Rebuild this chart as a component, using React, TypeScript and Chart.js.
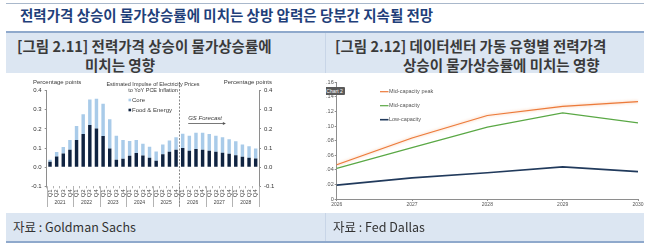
import React, { useEffect, useRef } from "react";
import { Chart, registerables } from "chart.js";

Chart.register(...registerables);

// ---------- Figure 2.11 data (Goldman Sachs) ----------
const quarterLabels = [
  "Q1", "Q2", "Q3", "Q4", "Q1", "Q2", "Q3", "Q4",
  "Q1", "Q2", "Q3", "Q4", "Q1", "Q2", "Q3", "Q4",
  "Q1", "Q2", "Q3", "Q4", "Q1", "Q2", "Q3", "Q4",
  "Q1", "Q2", "Q3", "Q4", "Q1", "Q2", "Q3", "Q4",
];
const yearLabels = ["2021", "2022", "2023", "2024", "2025", "2026", "2027", "2028"];
const foodEnergy = [
  0.028, 0.056, 0.072, 0.091, 0.142, 0.174, 0.221, 0.202,
  0.163, 0.098, 0.039, 0.044, 0.06, 0.074, 0.061, 0.049,
  0.033, 0.068, 0.081, 0.091, 0.1, 0.086, 0.095, 0.091,
  0.086, 0.081, 0.075, 0.07, 0.063, 0.054, 0.049, 0.046,
];
const coreImpulse = [
  0.011, 0.023, 0.033, 0.051, 0.074, 0.103, 0.133, 0.156,
  0.169, 0.153, 0.126, 0.098, 0.077, 0.068, 0.062, 0.058,
  0.049, 0.05, 0.058, 0.065, 0.075, 0.079, 0.085, 0.089,
  0.088, 0.084, 0.081, 0.076, 0.072, 0.064, 0.06, 0.052,
];
const forecastStartYear = "2026";

// ---------- Figure 2.12 data (Fed Dallas) ----------
const dcYears = ["2026", "2027", "2028", "2029", "2030"];
const midCapacityPeak = [0.047, 0.0836, 0.1145, 0.127, 0.1335];
const midCapacity = [0.042, 0.0705, 0.0985, 0.118, 0.1045];
const lowCapacity = [0.019, 0.029, 0.036, 0.044, 0.0375];

const FONT = "'Liberation Sans', Arial, sans-serif";
const KFONT = "'Noto Sans CJK KR', 'Noto Sans', sans-serif";

const LIGHT = "#a9cbe9";
const DARK = "#0f2341";
const AXIS = "#8e8e8e";

function ImpulseChart() {
  const ref = useRef<HTMLCanvasElement>(null);
  useEffect(() => {
    const decor = {
      id: "impulseDecor",
      afterDraw(chart: any) {
        const { ctx, chartArea } = chart;
        const x = chart.scales.x;
        const y = chart.scales.y;
        const x2 = chart.scales.x2;
        const n = quarterLabels.length;
        const sepBottom = x2.bottom;
        ctx.save();
        // year separators
        ctx.strokeStyle = "#b3b3b3";
        ctx.lineWidth = 1;
        for (let i = 0; i <= n; i += 4) {
          const px =
            i === 0 ? x.left : i >= n ? x.right : (x.getPixelForValue(i - 1) + x.getPixelForValue(i)) / 2;
          const xx = Math.round(px) + 0.5;
          ctx.beginPath();
          ctx.moveTo(xx, chartArea.bottom);
          ctx.lineTo(xx, sepBottom);
          ctx.stroke();
        }
        // forecast divider
        const fIdx = yearLabels.indexOf(forecastStartYear) * 4;
        const fx = Math.round((x.getPixelForValue(fIdx - 1) + x.getPixelForValue(fIdx)) / 2) + 0.5;
        ctx.setLineDash([2, 1.5]);
        ctx.strokeStyle = "#8a8a8a";
        ctx.beginPath();
        ctx.moveTo(fx, 9);
        ctx.lineTo(fx, sepBottom);
        ctx.stroke();
        ctx.setLineDash([]);
        // header texts
        ctx.fillStyle = "#3a3a3a";
        ctx.textBaseline = "middle";
        ctx.font = `6px ${FONT}`;
        ctx.textAlign = "left";
        ctx.fillText("Percentage points", 28, 9);
        ctx.textAlign = "right";
        ctx.fillText("Percentage points", 267, 9);
        ctx.textAlign = "center";
        ctx.font = `5.5px ${FONT}`;
        ctx.fillText("Estimated Impulse of Electricity Prices", 148, 11.3);
        ctx.fillText("to YoY PCE Inflation", 148, 17);
        // legend
        ctx.font = `6px ${FONT}`;
        ctx.textAlign = "left";
        ctx.fillStyle = LIGHT;
        ctx.fillRect(123.5, 25.7, 2.6, 2.6);
        ctx.fillStyle = DARK;
        ctx.fillRect(123.5, 35.7, 2.6, 2.6);
        ctx.fillStyle = "#3a3a3a";
        ctx.fillText("Core", 127, 27);
        ctx.fillText("Food & Energy", 127, 37);
        // GS Forecast
        const gx0 = x.getPixelForValue(fIdx) + 5.5;
        const gx1 = x.getPixelForValue(fIdx + 5) + 8;
        ctx.font = `italic 6px ${FONT}`;
        ctx.fillText("GS Forecast", gx0, y.getPixelForValue(0.258));
        const ay = Math.round(y.getPixelForValue(0.232)) + 0.5;
        ctx.strokeStyle = "#555";
        ctx.lineWidth = 0.8;
        ctx.beginPath();
        ctx.moveTo(gx0, ay);
        ctx.lineTo(gx1, ay);
        ctx.stroke();
        ctx.fillStyle = "#555";
        ctx.beginPath();
        ctx.moveTo(gx1 + 2, ay);
        ctx.lineTo(gx1 - 1, ay - 1.5);
        ctx.lineTo(gx1 - 1, ay + 1.5);
        ctx.closePath();
        ctx.fill();
        ctx.restore();
      },
    };
    const yTicks = {
      color: "#333",
      font: { size: 6, family: FONT },
      stepSize: 0.1,
      padding: 3,
      callback: (v: any) => Number(v).toFixed(1),
    };
    const chart = new Chart(ref.current!, {
      type: "bar",
      data: {
        labels: quarterLabels,
        datasets: [
          { label: "Food & Energy", data: foodEnergy, backgroundColor: DARK, barPercentage: 0.52, categoryPercentage: 1 },
          { label: "Core", data: coreImpulse, backgroundColor: LIGHT, barPercentage: 0.52, categoryPercentage: 1 },
        ],
      },
      options: {
        animation: false,
        responsive: false,
        maintainAspectRatio: false,
        devicePixelRatio: 1,
        layout: { padding: { left: 0, right: 46, top: 17.7, bottom: 5 } },
        plugins: { legend: { display: false }, tooltip: { enabled: false }, title: { display: false } },
        scales: {
          x: {
            stacked: true,
            offset: true,
            grid: { display: true, drawOnChartArea: false, drawTicks: true, tickLength: 2, color: "#b3b3b3", offset: true },
            border: { display: false },
            ticks: {
              autoSkip: false,
              minRotation: 90,
              maxRotation: 90,
              padding: 1,
              color: "#444",
              font: { size: 6, family: FONT },
            },
            afterFit: (s: any) => {
              s.height = 12;
            },
          },
          x2: {
            type: "category",
            position: "bottom",
            labels: yearLabels,
            offset: true,
            grid: { display: false, drawTicks: false, tickLength: 0 },
            border: { display: false },
            ticks: { padding: 1, color: "#444", font: { size: 5, family: FONT }, autoSkip: false, maxRotation: 0 },
            afterFit: (s: any) => {
              s.height = 8.7;
            },
          },
          y: {
            stacked: true,
            min: -0.1,
            max: 0.4,
            position: "left",
            grid: { drawOnChartArea: false, drawTicks: true, tickLength: 2, color: AXIS },
            border: { display: true, color: AXIS, width: 1 },
            ticks: yTicks,
            afterFit: (s: any) => {
              s.width = 41.7;
            },
          },
          y2: {
            min: -0.1,
            max: 0.4,
            position: "right",
            grid: { drawOnChartArea: false, drawTicks: true, tickLength: 2, color: AXIS },
            border: { display: true, color: AXIS, width: 1 },
            ticks: yTicks,
            afterFit: (s: any) => {
              s.width = 20;
            },
          },
        },
      },
      plugins: [decor],
    });
    return () => chart.destroy();
  }, []);
  return <canvas ref={ref} width={320} height={139} style={{ display: "block" }} />;
}

function DataCenterChart() {
  const ref = useRef<HTMLCanvasElement>(null);
  useEffect(() => {
    const series = [
      { label: "Mid-capacity peak", data: midCapacityPeak, color: "#ec7a3a", width: 1.2 },
      { label: "Mid-capacity", data: midCapacity, color: "#5aa845", width: 1.2 },
      { label: "Low-capacity", data: lowCapacity, color: "#213a5c", width: 1.6 },
    ];
    const decor = {
      id: "dcDecor",
      beforeDatasetDraw(chart: any, args: any) {
        if (args.index === 0) {
          chart.ctx.save();
          chart.ctx.shadowColor = "rgba(245,170,120,0.8)";
          chart.ctx.shadowBlur = 3;
        }
      },
      afterDatasetDraw(chart: any, args: any) {
        if (args.index === 0) chart.ctx.restore();
      },
      afterDraw(chart: any) {
        const { ctx } = chart;
        ctx.save();
        ctx.font = `5.5px ${FONT}`;
        ctx.textBaseline = "middle";
        ctx.textAlign = "left";
        series.forEach((s, i) => {
          const yy = 18.7 + i * 14;
          ctx.strokeStyle = s.color;
          ctx.lineWidth = s.width;
          ctx.beginPath();
          ctx.moveTo(70, yy);
          ctx.lineTo(78.5, yy);
          ctx.stroke();
          ctx.fillStyle = "#555";
          ctx.fillText(s.label, 79, yy);
        });
        ctx.restore();
      },
    };
    const chart = new Chart(ref.current!, {
      type: "line",
      data: {
        labels: dcYears,
        datasets: series.map((s) => ({
          label: s.label,
          data: s.data,
          borderColor: s.color,
          backgroundColor: s.color,
          borderWidth: s.width,
          pointRadius: 0,
          tension: 0,
          fill: false,
        })),
      },
      options: {
        animation: false,
        responsive: false,
        maintainAspectRatio: false,
        devicePixelRatio: 1,
        layout: { padding: { left: 0, right: 7, top: 9.3, bottom: 0 } },
        plugins: { legend: { display: false }, tooltip: { enabled: false } },
        scales: {
          x: {
            offset: false,
            grid: { drawOnChartArea: false, drawTicks: true, tickLength: 2, color: AXIS },
            border: { display: true, color: AXIS },
            ticks: { padding: 1, color: "#555", font: { size: 5, family: FONT }, maxRotation: 0, autoSkip: false },
            afterFit: (s: any) => {
              s.height = 13;
            },
          },
          y: {
            min: 0,
            max: 0.16,
            grid: { drawOnChartArea: false, drawTicks: true, tickLength: 2, color: AXIS },
            border: { display: true, color: AXIS },
            ticks: { stepSize: 0.02, padding: 1, color: "#555", font: { size: 5.5, family: FONT } },
            afterFit: (s: any) => {
              s.width = 26.7;
            },
          },
        },
      },
      plugins: [decor],
    });
    return () => chart.destroy();
  }, []);
  return <canvas ref={ref} width={335} height={139} style={{ display: "block" }} />;
}

const abs = (s: React.CSSProperties): React.CSSProperties => ({ position: "absolute", ...s });

export default function App() {
  const band = "#dce6f2";
  const rule = "#8fa9cc";
  const titleStyle: React.CSSProperties = {
    fontSize: 14.5,
    fontWeight: 700,
    color: "#3a3a3a",
    lineHeight: "19px",
    whiteSpace: "nowrap",
  };
  return (
    <div
      style={{
        position: "fixed",
        left: 0,
        top: 0,
        width: 650,
        height: 247,
        background: "#fff",
        overflow: "hidden",
        fontFamily: KFONT,
      }}
    >
      <div style={abs({ left: 6, top: 3, width: 638, height: 1, background: "#a9b8cb" })} />
      <div
        style={abs({
          left: 20,
          top: 5,
          fontSize: 14.5,
          fontWeight: 700,
          color: "#1f3f7a",
          lineHeight: "20px",
          whiteSpace: "nowrap",
        })}
      >
        전력가격 상승이 물가상승률에 미치는 상방 압력은 당분간 지속될 전망
      </div>
      <div style={abs({ left: 6, top: 31, width: 638, height: 2, background: rule })} />
      <div style={abs({ left: 6, top: 33, width: 638, height: 40, background: band })} />
      <div style={abs({ left: 325, top: 33, width: 1, height: 40, background: "#c8d5e7" })} />
      <div style={abs({ left: 17, top: 36, ...titleStyle })}>
        [그림 2.11] 전력가격 상승이 물가상승률에
        <br />
        <span style={{ paddingLeft: 68 }}>미치는 영향</span>
      </div>
      <div style={abs({ left: 335, top: 36, ...titleStyle })}>
        [그림 2.12] 데이터센터 가동 유형별 전력가격
        <br />
        <span style={{ paddingLeft: 68 }}>상승이 물가상승률에 미치는 영향</span>
      </div>

      <div style={abs({ left: 5, top: 73, width: 320, height: 139 })}>
        <ImpulseChart />
      </div>
      <div style={abs({ left: 326, top: 73, width: 319, height: 139, overflow: "hidden" })}>
        <div style={abs({ left: -16, top: 0 })}>
          <DataCenterChart />
        </div>
        <div
          style={abs({
            left: -2,
            top: 14,
            width: 21,
            height: 8,
            background: "#5a5a5a",
            borderRadius: 1,
            color: "#fff",
            fontFamily: FONT,
            fontSize: 5,
            lineHeight: "8px",
            textAlign: "center",
          })}
        >
          Chart 2
        </div>
      </div>

      <div style={abs({ left: 6, top: 213, width: 638, height: 28, background: band })} />
      <div style={abs({ left: 325, top: 213, width: 1, height: 28, background: "#c8d5e7" })} />
      <div style={abs({ left: 6, top: 241, width: 638, height: 2, background: rule })} />
      <div style={abs({ left: 13, top: 217, fontSize: 12.5, color: "#333", lineHeight: "20px", whiteSpace: "nowrap" })}>
        자료 : Goldman Sachs
      </div>
      <div style={abs({ left: 333, top: 217, fontSize: 12.5, color: "#333", lineHeight: "20px", whiteSpace: "nowrap" })}>
        자료 : Fed Dallas
      </div>
    </div>
  );
}
